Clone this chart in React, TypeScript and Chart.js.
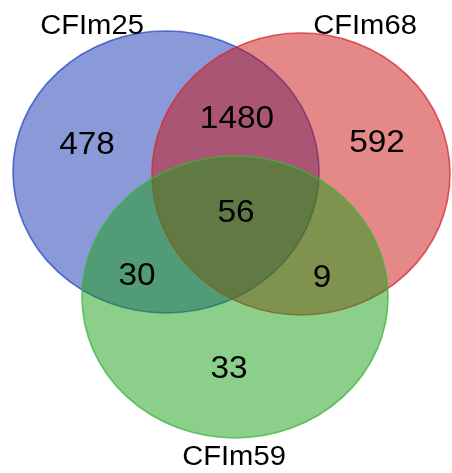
import { useEffect, useRef } from "react";
import { Chart, registerables } from "chart.js";

Chart.register(...registerables);

// Venn sets (positions in picture units)
const setNames = ["CFIm25", "CFIm68", "CFIm59"];
const setCenterX = [166, 301, 235];
const setCenterY = [172, 174, 297];
const setRadiusX = [153, 149, 153];
const setRadiusY = [141, 141, 141];
const setLabelX = [92, 365, 234];
const setLabelY = [24, 24, 455];

// Region counts
const regionCounts = ["478", "592", "33", "1480", "30", "9", "56"];
const regionX = [87, 377, 229, 237, 137, 322, 236];
const regionY = [143, 141, 367, 117, 274, 276, 211];

const FILLS = ["rgba(21,53,177,0.5)", "rgba(203,17,17,0.5)", "rgba(25,159,21,0.5)"];
const STROKES = ["rgba(40,70,200,0.75)", "rgba(215,40,50,0.75)", "rgba(60,180,60,0.75)"];
const FONT = '"Liberation Sans", Arial, Helvetica, sans-serif';

const vennPlugin = {
  id: "vennDraw",
  beforeDatasetsDraw(chart: any) {
    const { ctx } = chart;
    const xs = chart.scales.x;
    const ys = chart.scales.y;
    const meta = chart.getDatasetMeta(0);
    meta.data.forEach((pt: any, i: number) => {
      const px = pt.x;
      const py = pt.y;
      const rx = Math.abs(xs.getPixelForValue(setCenterX[i] + setRadiusX[i]) - xs.getPixelForValue(setCenterX[i]));
      const ry = Math.abs(ys.getPixelForValue(setCenterY[i] + setRadiusY[i]) - ys.getPixelForValue(setCenterY[i]));
      ctx.save();
      ctx.beginPath();
      ctx.ellipse(px, py, rx, ry, 0, 0, Math.PI * 2);
      ctx.fillStyle = FILLS[i];
      ctx.fill();
      ctx.lineWidth = 1.6;
      ctx.strokeStyle = STROKES[i];
      ctx.stroke();
      ctx.restore();
    });
  },
  afterDatasetsDraw(chart: any) {
    const { ctx } = chart;
    const drawText = (t: string, x: number, y: number, size: number, sx: number) => {
      ctx.save();
      ctx.font = `${size}px ${FONT}`;
      ctx.fillStyle = "#000";
      ctx.textAlign = "center";
      ctx.textBaseline = "alphabetic";
      ctx.translate(x, y + size * 0.358);
      ctx.scale(sx, 1);
      ctx.fillText(t, 0, 0);
      ctx.restore();
    };
    chart.getDatasetMeta(1).data.forEach((pt: any, i: number) => {
      drawText(regionCounts[i], pt.x, pt.y, 31.5, 1.06);
    });
    chart.getDatasetMeta(2).data.forEach((pt: any, i: number) => {
      drawText(setNames[i], pt.x, pt.y, 27, 1.08);
    });
  },
};

export default function App() {
  const ref = useRef<HTMLCanvasElement | null>(null);
  useEffect(() => {
    if (!ref.current) return;
    const chart = new Chart(ref.current, {
      type: "scatter",
      data: {
        datasets: [
          {
            label: "sets",
            data: setCenterX.map((x, i) => ({ x, y: setCenterY[i] })),
            pointRadius: 0,
            pointHoverRadius: 0,
          },
          {
            label: "counts",
            data: regionX.map((x, i) => ({ x, y: regionY[i] })),
            pointRadius: 0,
            pointHoverRadius: 0,
          },
          {
            label: "names",
            data: setLabelX.map((x, i) => ({ x, y: setLabelY[i] })),
            pointRadius: 0,
            pointHoverRadius: 0,
          },
        ],
      },
      options: {
        animation: false,
        responsive: false,
        layout: { padding: 0 },
        plugins: { legend: { display: false }, tooltip: { enabled: false } },
        scales: {
          x: { type: "linear", min: 0, max: 452, display: false },
          y: { type: "linear", min: 0, max: 473, reverse: true, display: false },
        },
      },
      plugins: [vennPlugin],
    });
    return () => chart.destroy();
  }, []);
  return (
    <div style={{ position: "fixed", left: 0, top: 0, width: 452, height: 473, background: "#fff" }}>
      <canvas ref={ref} width={452} height={473} style={{ display: "block" }} />
    </div>
  );
}
